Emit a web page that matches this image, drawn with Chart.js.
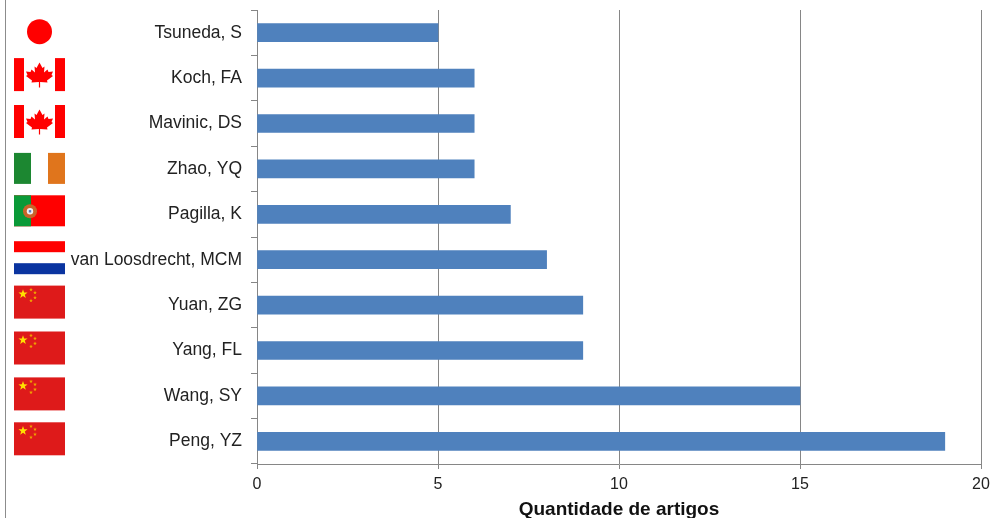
<!DOCTYPE html>
<html>
<head>
<meta charset="utf-8">
<title>Quantidade de artigos</title>
<script src="https://cdn.jsdelivr.net/npm/chart.js@4"></script>
<style>
  html, body { margin: 0; padding: 0; background: #fff; overflow: hidden; }
</style>
</head>
<body>
<canvas id="chart" width="990" height="518"></canvas>
<script>
"use strict";

// Data
const authors = ["Tsuneda, S", "Koch, FA", "Mavinic, DS", "Zhao, YQ", "Pagilla, K", "van Loosdrecht, MCM", "Yuan, ZG", "Yang, FL", "Wang, SY", "Peng, YZ"];
const articles = [5, 6, 6, 6, 7, 8, 9, 9, 15, 19];
const countries = ["jp", "ca", "ca", "ie", "pt", "nl", "cn", "cn", "cn", "cn"];
const xTicks = [0, 5, 10, 15, 20];

const FONT = '"Liberation Sans", Arial, sans-serif';
const FLAG_X = 14, FLAG_W = 51, FLAG_H = 33;

// Flags are pasted a little off the bar centres in the original
const flagShift = [-1, -3.5, -2, 0.5, -2.5, -2, -3, -2.5, -2, -2.5];

function star(ctx, cx, cy, r, color) {
  ctx.fillStyle = color;
  ctx.beginPath();
  for (let i = 0; i < 10; i++) {
    const rad = i % 2 ? r * 0.4 : r;
    const a = -Math.PI / 2 + (i * Math.PI) / 5;
    ctx.lineTo(cx + rad * Math.cos(a), cy + rad * Math.sin(a));
  }
  ctx.closePath();
  ctx.fill();
}

function mapleLeaf(ctx, cx, top) {
  const half = [[0, 0], [3, 5.5], [5, 4], [4.5, 10], [8, 7], [9, 9.5], [13.5, 9], [12, 12.5], [13.5, 13.5], [7.5, 18], [8, 20], [0.6, 19.5], [0.6, 25]];
  ctx.fillStyle = "#ff0000";
  ctx.beginPath();
  half.forEach((p) => ctx.lineTo(cx + p[0], top + p[1]));
  half.slice().reverse().forEach((p) => ctx.lineTo(cx - p[0], top + p[1]));
  ctx.closePath();
  ctx.fill();
}

function drawFlag(ctx, code, y) {
  const x = FLAG_X, w = FLAG_W, h = FLAG_H, top = y - h / 2;
  if (code === "jp") {
    ctx.fillStyle = "#ff0000";
    ctx.beginPath();
    ctx.arc(x + w / 2, y, 12.5, 0, Math.PI * 2);
    ctx.fill();
  } else if (code === "ca") {
    ctx.fillStyle = "#ff0000";
    ctx.fillRect(x, top, 10, h);
    ctx.fillRect(x + w - 10, top, 10, h);
    mapleLeaf(ctx, x + w / 2, top + 4.5);
  } else if (code === "ie") {
    ctx.fillStyle = "#1c8731";
    ctx.fillRect(x, top, 17, h - 2);
    ctx.fillStyle = "#e0751c";
    ctx.fillRect(x + w - 17, top, 17, h - 2);
  } else if (code === "pt") {
    ctx.fillStyle = "#ff0000";
    ctx.fillRect(x, top, w, h - 2);
    ctx.fillStyle = "#0a9a38";
    ctx.fillRect(x, top, 17, h - 2);
    const cx = x + 16, cy = top + 16;
    ctx.fillStyle = "#c9642a";
    ctx.beginPath();
    ctx.arc(cx, cy, 7, 0, Math.PI * 2);
    ctx.fill();
    ctx.fillStyle = "#f2f2f2";
    ctx.beginPath();
    ctx.arc(cx, cy, 3.2, 0, Math.PI * 2);
    ctx.fill();
    ctx.fillStyle = "#5a78c0";
    ctx.fillRect(cx - 1.2, cy - 1.2, 2.4, 2.4);
  } else if (code === "nl") {
    ctx.fillStyle = "#ff0000";
    ctx.fillRect(x, top, w, 11);
    ctx.fillStyle = "#0a34a0";
    ctx.fillRect(x, top + h - 11, w, 11);
  } else if (code === "cn") {
    ctx.fillStyle = "#de1a1a";
    ctx.fillRect(x, top, w, h);
    star(ctx, x + 9, top + 8.5, 4.8, "#ffe000");
    star(ctx, x + 17, top + 4, 2, "#f0a800");
    star(ctx, x + 21, top + 7, 2, "#f0a800");
    star(ctx, x + 21, top + 12, 2, "#f0a800");
    star(ctx, x + 17, top + 15, 2, "#f0a800");
  }
}

const flagsPlugin = {
  id: "flags",
  beforeDraw(chart) {
    const { ctx, scales } = chart;
    ctx.save();
    // page frame line on the left
    ctx.strokeStyle = "#8c8c8c";
    ctx.lineWidth = 1;
    ctx.beginPath();
    ctx.moveTo(5.5, 0);
    ctx.lineTo(5.5, chart.height);
    ctx.stroke();
    countries.forEach((code, i) => {
      drawFlag(ctx, code, scales.y.getPixelForValue(i) + flagShift[i]);
    });
    ctx.restore();
  },
};

new Chart(document.getElementById("chart"), {
  type: "bar",
  data: {
    labels: authors,
    datasets: [
      {
        data: articles,
        backgroundColor: "#4f81bd",
        barThickness: 18,
      },
    ],
  },
  plugins: [flagsPlugin],
  options: {
    indexAxis: "y",
    responsive: false,
    animation: false,
    layout: { padding: { top: 10, right: 9, left: 0, bottom: 0 } },
    plugins: { legend: { display: false }, tooltip: { enabled: false } },
    scales: {
      x: {
        min: 0,
        max: 20,
        afterBuildTicks(scale) {
          scale.ticks = xTicks.map((value) => ({ value }));
        },
        afterFit(scale) {
          scale.height = 54;
          scale.paddingLeft = 0;
          scale.paddingRight = 0;
        },
        grid: { color: "#868686", lineWidth: 1, tickLength: 5 },
        border: { color: "#868686", width: 1 },
        ticks: {
          color: "#222222",
          font: { family: FONT, size: 16 },
          padding: 6,
          maxRotation: 0,
        },
        title: {
          display: true,
          text: "Quantidade de artigos",
          color: "#111111",
          font: { family: FONT, size: 19, weight: "bold", lineHeight: 1 },
          padding: { top: 0, bottom: -1 },
        },
      },
      y: {
        afterFit(scale) {
          scale.width = 257;
          scale.paddingTop = 0;
          scale.paddingBottom = 0;
        },
        grid: { drawOnChartArea: false, color: "#868686", lineWidth: 1, tickLength: 6 },
        border: { color: "#868686", width: 1 },
        ticks: {
          color: "#222222",
          font: { family: FONT, size: 17.5 },
          padding: 9,
          autoSkip: false,
        },
      },
    },
  },
});
</script>
</body>
</html>
